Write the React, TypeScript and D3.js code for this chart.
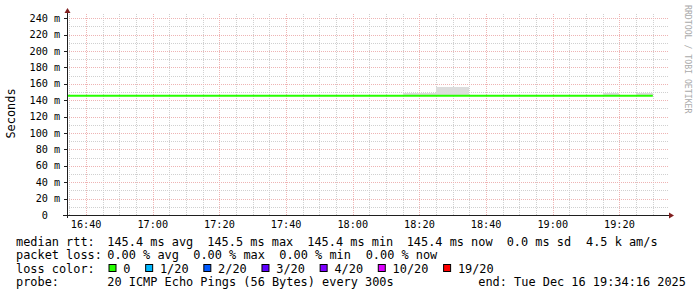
import React, { useEffect } from "react";
import * as d3 from "d3";

// ---------- data ----------
const stepEnds = [
  "16:35", "16:40", "16:45", "16:50", "16:55", "17:00", "17:05", "17:10", "17:15",
  "17:20", "17:25", "17:30", "17:35", "17:40", "17:45", "17:50", "17:55", "18:00",
  "18:05", "18:10", "18:15", "18:20", "18:25", "18:30", "18:35", "18:40", "18:45",
  "18:50", "18:55", "19:00", "19:05", "19:10", "19:15", "19:20", "19:25", "19:30",
];
const medianRtt = [
  145.4, 145.4, 145.4, 145.4, 145.4, 145.4, 145.4, 145.4, 145.4,
  145.4, 145.4, 145.4, 145.4, 145.4, 145.4, 145.4, 145.4, 145.4,
  145.4, 145.4, 145.4, 145.4, 145.4, 145.4, 145.5, 145.4, 145.4,
  145.4, 145.4, 145.4, 145.4, 145.4, 145.4, 145.4, 145.4, 145.4,
];
const smokeLow = [
  145.2, 145.2, 145.2, 145.2, 145.2, 145.2, 145.2, 145.2, 145.2,
  145.2, 145.2, 145.2, 145.2, 145.2, 145.2, 145.2, 145.2, 145.2,
  145.2, 145.2, 145.2, 145.2, 145.2, 145.2, 145.2, 145.2, 145.2,
  145.2, 145.2, 145.2, 145.2, 145.2, 145.2, 145.2, 145.2, 145.2,
];
const smokeHigh = [
  145.6, 145.6, 145.6, 145.6, 145.6, 145.6, 145.6, 145.6, 145.6,
  145.6, 145.6, 145.6, 145.6, 145.6, 145.6, 145.6, 145.6, 145.6,
  145.6, 145.6, 145.6, 149.0, 149.0, 156.0, 156.0, 145.6, 145.6,
  145.6, 145.6, 145.6, 145.6, 145.6, 145.6, 149.0, 145.6, 149.0,
];
const startTime = "16:34:16";
const endTime = "19:34:16";
const yMax = 244;
const yTicks = [0, 20, 40, 60, 80, 100, 120, 140, 160, 180, 200, 220, 240];
const yMinorTicks = [10, 30, 50, 70, 90, 110, 130, 150, 170, 190, 210, 230];
const xTickLabels = ["16:40", "17:00", "17:20", "17:40", "18:00", "18:20", "18:40", "19:00", "19:20"];
const xMinorTicks = [
  "16:35", "16:45", "16:50", "16:55", "17:05", "17:10", "17:15", "17:25", "17:30",
  "17:35", "17:45", "17:50", "17:55", "18:05", "18:10", "18:15", "18:25", "18:30",
  "18:35", "18:45", "18:50", "18:55", "19:05", "19:10", "19:15", "19:25", "19:30",
];
const lossColors = ["#26ff00", "#00b8ff", "#0059ff", "#5e00ff", "#7e00ff", "#dd00ff", "#ff0000"];
const lossLabels = ["0", "1/20", "2/20", "3/20", "4/20", "10/20", "19/20"];
const legendRtt = ["median rtt:", "145.4 ms avg", "145.5 ms max", "145.4 ms min", "145.4 ms now", "0.0 ms sd", "4.5 k am/s"];
const legendLoss = ["packet loss:", "0.00 % avg", "0.00 % max", "0.00 % min", "0.00 % now"];
const legendProbe = ["probe:", "20 ICMP Echo Pings (56 Bytes) every 300s", "end: Tue Dec 16 19:34:16 2025"];
const yAxisTitle = "Seconds";
const watermark = "RRDTOOL / TOBI OETIKER";

// ---------- layout ----------
const W = 697;
const H = 297;
const plotLeft = 67;
const plotRight = 667;
const plotBottom = 215;
const plotTop = 15;
const rttX = [16, 107.3, 207.3, 307.3, 406.7, 506.7, 586];
const lossX = [16, 107.3, 193.3, 279.3, 365.7];
const probeX = [16, 107.3, 478.3];
const lineBase = [245.7, 259.2, 272.7, 286.3];
const mono = "'DejaVu Sans Mono', monospace";
const legendSize = 11.9;
const axisSize = 10.2;
const charW = legendSize * 0.602;

const toDate = (s: string) => {
  const p = s.split(":").map(Number);
  return new Date(2025, 11, 16, p[0], p[1], p[2] || 0);
};

export default function App() {
  useEffect(() => {
    document.body.style.margin = "0";
  }, []);

  const x = d3.scaleTime().domain([toDate(startTime), toDate(endTime)]).range([plotLeft, plotRight]);
  const y = d3.scaleLinear().domain([0, yMax]).range([plotBottom, plotTop]);
  const crisp = (v: number) => Math.round(v) + 0.5;

  const t0 = toDate(startTime);
  const ends = stepEnds.map(toDate);
  const linePts: [Date, number][] = [[t0, medianRtt[0]], ...ends.map((d, i) => [d, medianRtt[i]] as [Date, number])];
  const line = d3
    .line<[Date, number]>()
    .x((d) => x(d[0]))
    .y((d) => y(d[1]))
    .curve(d3.curveStepBefore);

  // loss legend layout
  const lossItems: { bx: number; tx: number; color: string; label: string }[] = [];
  let bx = 108.5;
  lossLabels.forEach((lab, i) => {
    const tx = bx + 14.8;
    lossItems.push({ bx, tx, color: lossColors[i], label: lab });
    bx = tx + lab.length * charW + 14.7;
  });

  return (
    <svg
      width={W}
      height={H}
      viewBox={`0 0 ${W} ${H}`}
      style={{ position: "absolute", left: 0, top: 0, display: "block", background: "#fff" }}
    >
      <rect x={0} y={0} width={W} height={H} fill="#fff" />

      {/* minor grid */}
      <g stroke="#d0d0d0" strokeWidth={1} strokeDasharray="1,1" shapeRendering="crispEdges">
        {yMinorTicks.map((v) => (
          <line key={"ym" + v} x1={plotLeft} x2={plotRight + 1} y1={crisp(y(v))} y2={crisp(y(v))} />
        ))}
        {xMinorTicks.map((t) => (
          <line key={"xm" + t} x1={crisp(x(toDate(t)))} x2={crisp(x(toDate(t)))} y1={plotBottom} y2={plotTop - 1} />
        ))}
      </g>
      {/* major grid */}
      <g stroke="#eeb4b4" strokeWidth={1} strokeDasharray="1,1" shapeRendering="crispEdges">
        {yTicks.filter((v) => v > 0).map((v) => (
          <line key={"yM" + v} x1={plotLeft} x2={plotRight + 1} y1={crisp(y(v))} y2={crisp(y(v))} />
        ))}
        {xTickLabels.map((t) => (
          <line key={"xM" + t} x1={crisp(x(toDate(t)))} x2={crisp(x(toDate(t)))} y1={plotBottom} y2={plotTop - 1} />
        ))}
      </g>

      {/* smoke */}
      <g fill="#dcdcdc" shapeRendering="crispEdges">
        {ends.map((d, i) => {
          const s = new Date(Math.max(d.getTime() - 300000, t0.getTime()));
          const x0 = x(s);
          const x1 = x(d);
          return (
            <rect key={"s" + i} x={x0} width={x1 - x0} y={y(smokeHigh[i])} height={y(smokeLow[i]) - y(smokeHigh[i])} />
          );
        })}
      </g>

      {/* median line */}
      <path d={line(linePts) || ""} fill="none" stroke={lossColors[0]} strokeWidth={2} />

      {/* axes */}
      <g stroke="#1f1f1f" strokeWidth={1} shapeRendering="crispEdges">
        <line x1={plotLeft - 4} x2={plotRight + 3} y1={plotBottom + 0.5} y2={plotBottom + 0.5} />
        <line x1={plotLeft + 0.5} x2={plotLeft + 0.5} y1={plotBottom + 3} y2={plotTop - 3} />
        {yTicks.filter((v) => v > 0).map((v) => (
          <line key={"yt" + v} x1={plotLeft - 3} x2={plotLeft} y1={crisp(y(v))} y2={crisp(y(v))} />
        ))}
      </g>
      <path
        d={`M${plotLeft + 0.5},${plotTop - 7} L${plotLeft + 3.5},${plotTop - 2} L${plotLeft - 2.5},${plotTop - 2} Z`}
        fill="#801f1f"
      />
      <path
        d={`M${plotRight + 7},${plotBottom + 0.5} L${plotRight + 2},${plotBottom - 2.5} L${plotRight + 2},${plotBottom + 3.5} Z`}
        fill="#801f1f"
      />

      {/* y labels */}
      <g fontFamily={mono} fontSize={axisSize} fill="#000">
        {yTicks.map((v) => (
          <g key={"yl" + v}>
            <text x={48} y={y(v) + 3.6} textAnchor="end">
              {v}
            </text>
            {v > 0 && (
              <text x={54} y={y(v) + 3.6}>
                m
              </text>
            )}
          </g>
        ))}
      </g>
      {/* x labels */}
      <g fontFamily={mono} fontSize={axisSize} fill="#000" textAnchor="middle">
        {xTickLabels.map((t) => (
          <text key={"xl" + t} x={x(toDate(t))} y={228.2}>
            {t}
          </text>
        ))}
      </g>

      {/* axis title */}
      <text
        transform={`translate(14.6, 113.5) rotate(-90)`}
        textAnchor="middle"
        fontFamily={mono}
        fontSize={legendSize}
        fill="#000"
      >
        {yAxisTitle}
      </text>

      {/* watermark */}
      <text transform={`translate(685, 5) rotate(90)`} fontFamily={mono} fontSize={8.2} fill="#aaaaaa">
        {watermark}
      </text>

      {/* legend */}
      <g fontFamily={mono} fontSize={legendSize} fill="#000">
        {legendRtt.map((s, i) => (
          <text key={"r" + i} x={rttX[i]} y={lineBase[0]}>
            {s}
          </text>
        ))}
        {legendLoss.map((s, i) => (
          <text key={"l" + i} x={lossX[i]} y={lineBase[1]}>
            {s}
          </text>
        ))}
        <text x={16} y={lineBase[2]}>
          loss color:
        </text>
        {lossItems.map((it, i) => (
          <g key={"lc" + i}>
            <rect x={it.bx + 0.5} y={264.5} width={7} height={7} fill={it.color} stroke="#000" strokeWidth={1} />
            <text x={it.tx} y={lineBase[2]}>
              {it.label}
            </text>
          </g>
        ))}
        {legendProbe.map((s, i) => (
          <text key={"p" + i} x={probeX[i]} y={lineBase[3]}>
            {s}
          </text>
        ))}
      </g>
    </svg>
  );
}
